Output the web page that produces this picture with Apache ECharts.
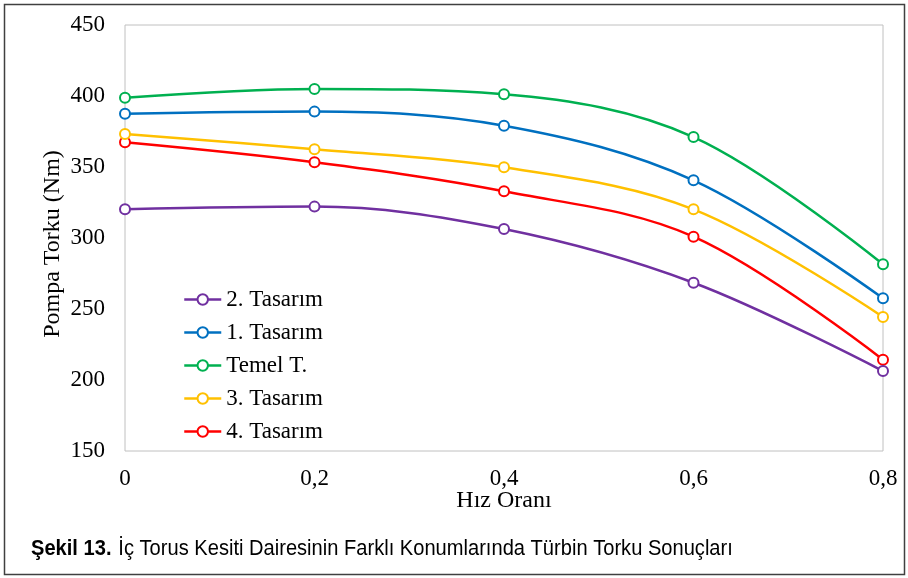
<!DOCTYPE html>
<html>
<head>
<meta charset="utf-8">
<script src="https://cdn.jsdelivr.net/npm/echarts@6/dist/echarts.min.js"></script>
<style>
  html, body { margin: 0; padding: 0; background: #ffffff; }
  #chart { width: 908px; height: 578px; }
</style>
</head>
<body>
<div id="chart"></div>
<script>
// Hız oranı (x) values
const speedRatios = [0, 0.2, 0.4, 0.6, 0.8];

// Pump torque (Nm) per design
const tasarim2 = [320.2, 322.1, 306.3, 268.5, 206.3];
const tasarim1 = [387.5, 389.0, 379.1, 340.6, 257.5];
const temelT   = [398.8, 405.0, 401.2, 371.1, 281.5];
const tasarim3 = [373.2, 362.5, 349.8, 320.2, 244.4];
const tasarim4 = [367.4, 353.3, 332.9, 300.9, 214.3];

const seriesNames = ['2. Tasarım', '1. Tasarım', 'Temel T.', '3. Tasarım', '4. Tasarım'];
const seriesValues = [tasarim2, tasarim1, temelT, tasarim3, tasarim4];
const seriesColors = ['#7030A0', '#0070C0', '#00B050', '#FFC000', '#FF0000'];

const serif = '"Liberation Serif", "Times New Roman", serif';
const sans = '"Liberation Sans", Arial, sans-serif';

const chart = echarts.init(document.getElementById('chart'), null, { renderer: 'canvas' });

const series = seriesNames.map((name, i) => ({
  name: name,
  type: 'line',
  smooth: 0.35,
  data: speedRatios.map((x, j) => [x, seriesValues[i][j]]),
  symbol: 'emptyCircle',
  symbolSize: 10,
  lineStyle: { color: seriesColors[i], width: 2.5 },
  itemStyle: { color: seriesColors[i], borderColor: seriesColors[i], borderWidth: 2.4 },
  emphasis: { disabled: true },
  z: 10 - i
}));

chart.setOption({
  animation: false,
  backgroundColor: '#ffffff',
  grid: {
    left: 125, right: 25, top: 25, bottom: 127,
    show: true, borderColor: '#c0c0c0', borderWidth: 1
  },
  legend: {
    orient: 'vertical',
    left: 178, top: 283,
    itemWidth: 37, itemHeight: 13, itemGap: 10,
    lineStyle: { width: 2.5 },
    itemStyle: { borderWidth: 2.4 },
    textStyle: { fontFamily: serif, fontSize: 23, color: '#000' },
    data: seriesNames
  },
  xAxis: {
    type: 'value',
    min: 0, max: 0.8, interval: 0.2,
    name: 'Hız Oranı',
    nameLocation: 'middle',
    nameGap: 38,
    nameMoveOverlap: false,
    nameTextStyle: { fontFamily: serif, fontSize: 24, color: '#000' },
    axisLine: { show: false },
    axisTick: { show: false },
    splitLine: { show: false },
    axisLabel: {
      fontFamily: serif, fontSize: 23, color: '#000', margin: 16,
      formatter: v => String(Math.round(v * 10) / 10).replace('.', ',')
    }
  },
  yAxis: {
    type: 'value',
    min: 150, max: 450, interval: 50,
    name: 'Pompa Torku (Nm)',
    nameLocation: 'middle',
    nameGap: 60,
    nameMoveOverlap: false,
    nameTextStyle: { fontFamily: serif, fontSize: 24, color: '#000', padding: [0, 12, 0, 0] },
    axisLine: { show: false },
    axisTick: { show: false },
    splitLine: { show: false },
    axisLabel: { fontFamily: serif, fontSize: 23, color: '#000', margin: 20 }
  },
  graphic: [
    {
      type: 'rect',
      shape: { x: 4.5, y: 4.5, width: 900, height: 570 },
      style: { fill: 'none', stroke: '#404040', lineWidth: 1.5 },
      silent: true
    },
    {
      type: 'text',
      x: 31, y: 538,
      scaleX: 0.935,
      style: {
        rich: {
          b: { fontFamily: sans, fontWeight: 'bold', fontSize: 21.5, fill: '#000' },
          n: { fontFamily: sans, fontSize: 21.5, fill: '#000', padding: [0, 0, 0, 4] }
        },
        text: '{b|Şekil 13.} {n|İç Torus Kesiti Dairesinin Farklı Konumlarında Türbin Torku Sonuçları}'
      }
    }
  ],
  series: series
});
</script>
</body>
</html>
